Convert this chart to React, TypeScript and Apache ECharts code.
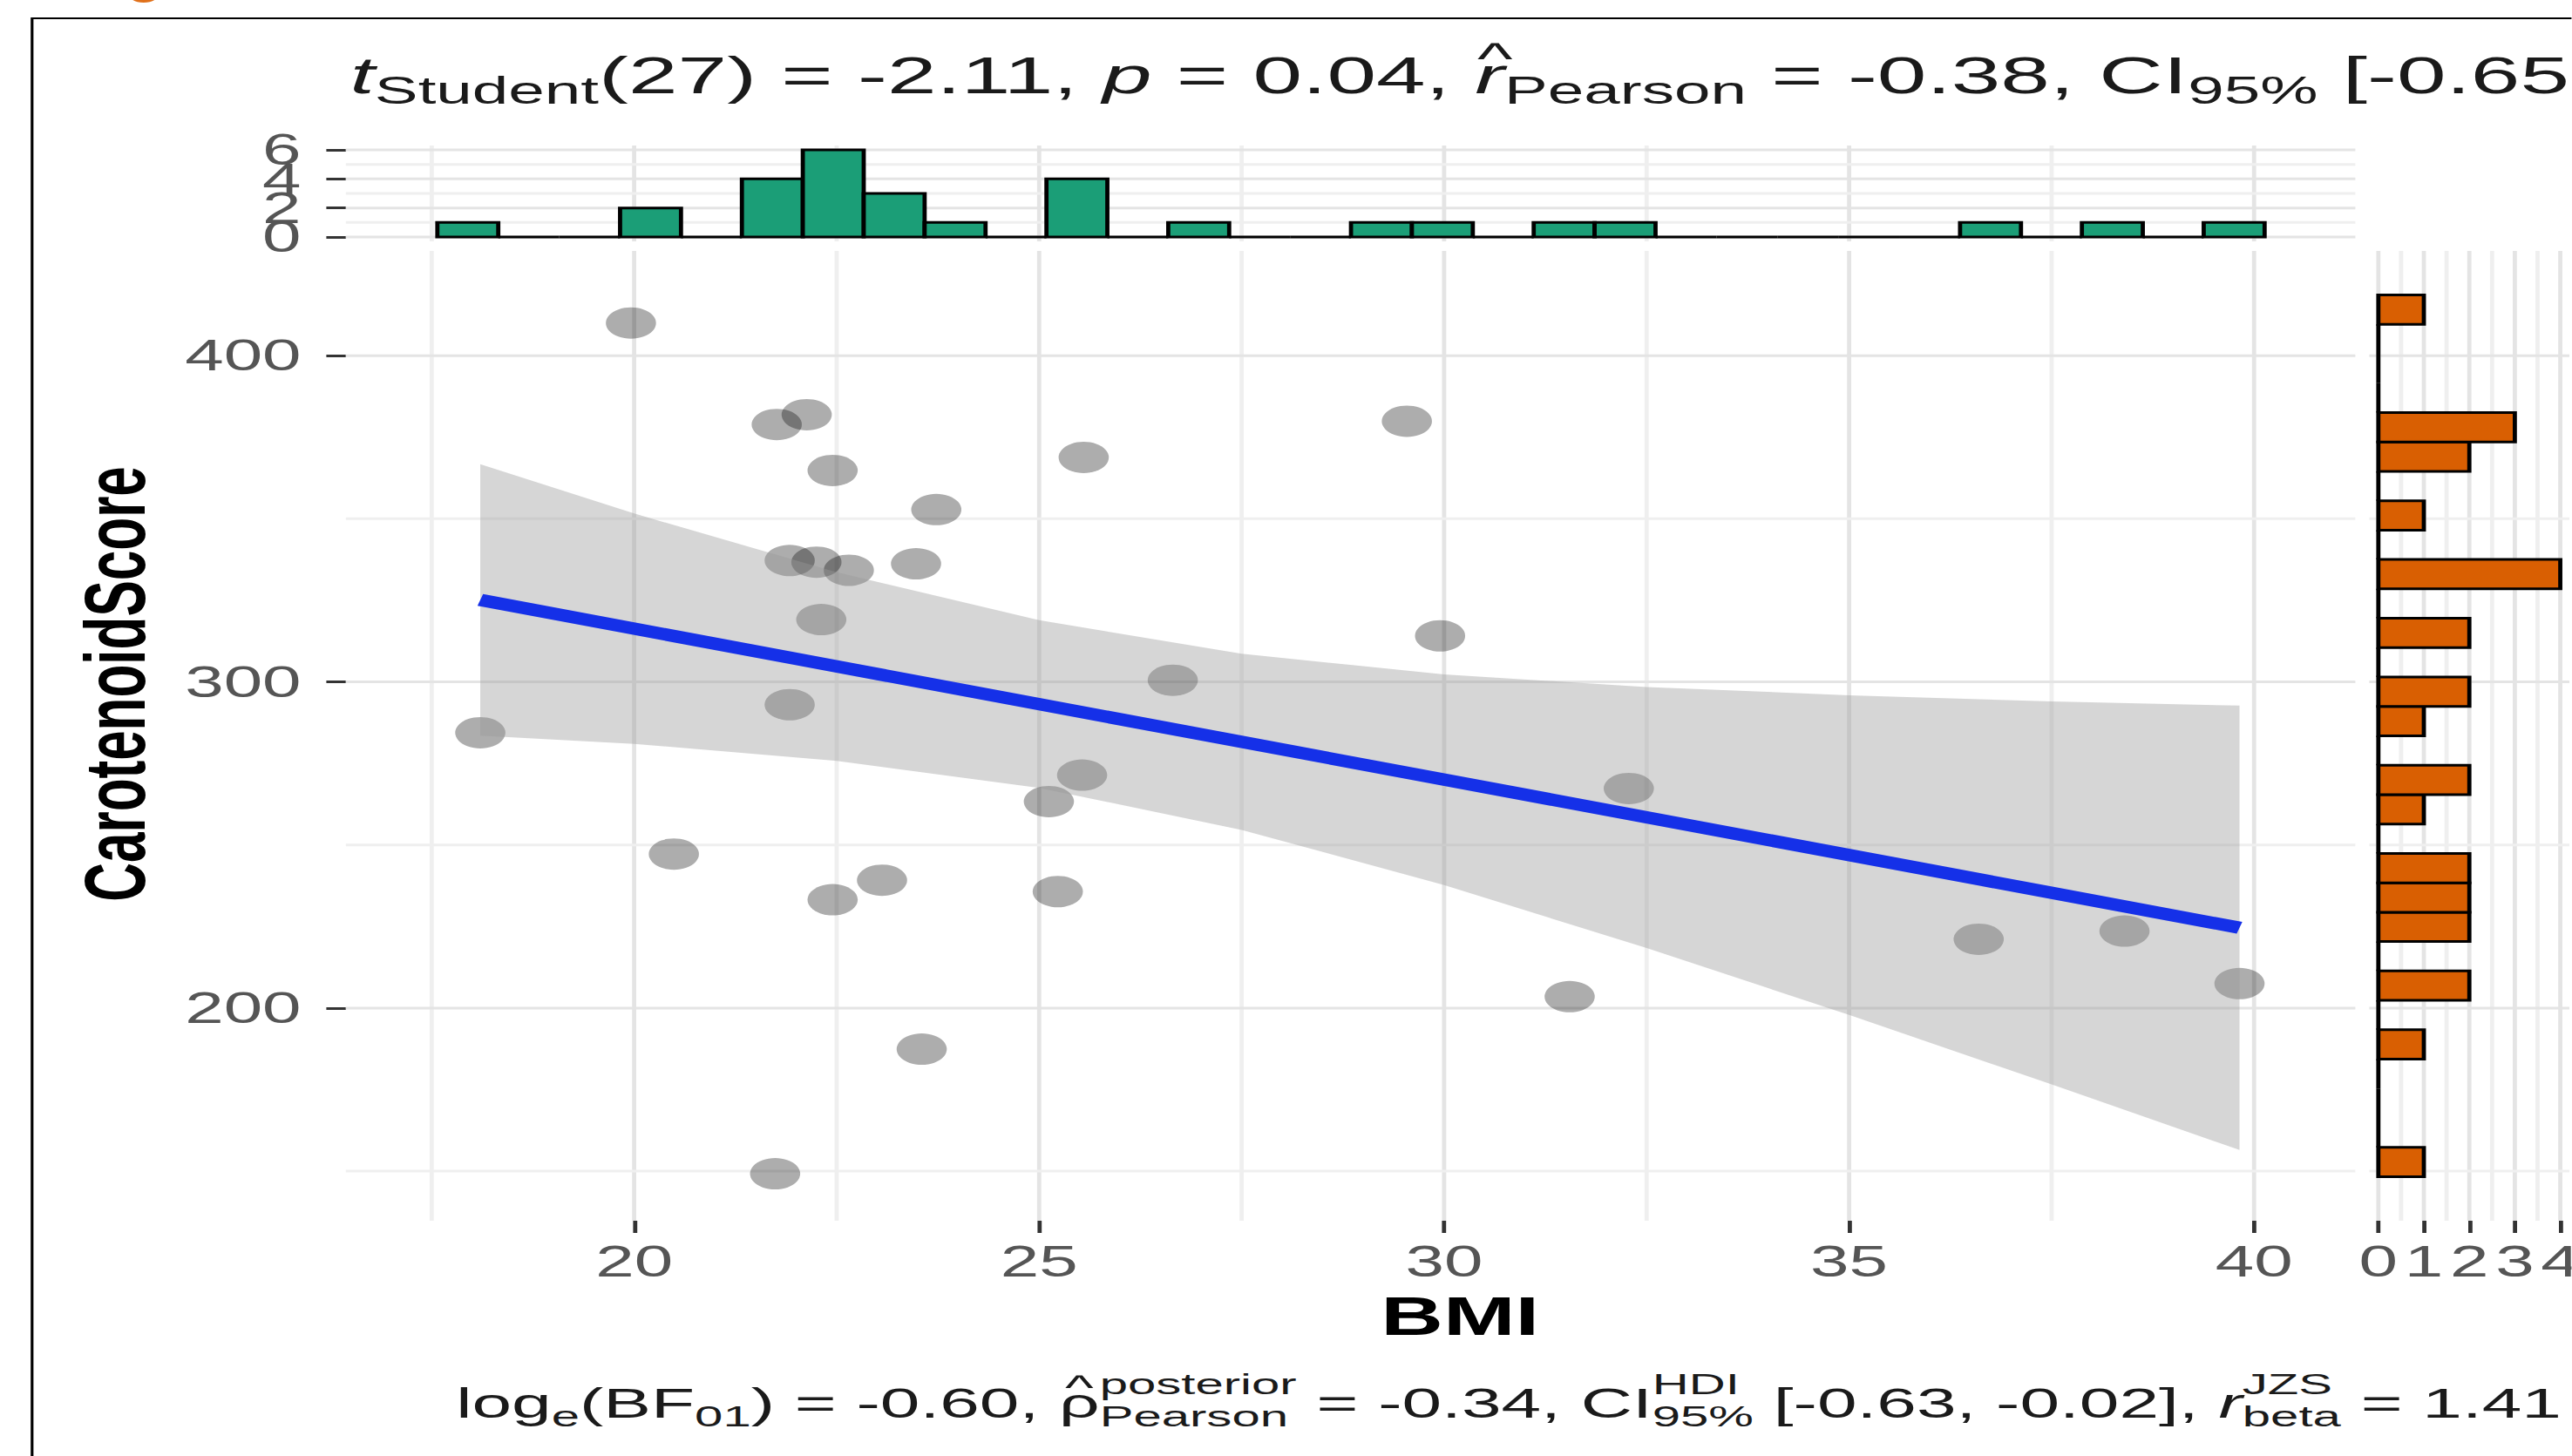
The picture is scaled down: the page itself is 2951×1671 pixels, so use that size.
import React, { useEffect, useRef } from 'react';
import * as echarts from 'echarts';

// The reference is a horizontally stretched ggplot export; we draw in an unstretched
// space and stretch the whole chart horizontally with CSS.
const STRETCH = 1.6;
const PAGE_W = 2951;
const PAGE_H = 1671;
const FONT = 'Liberation Sans';

// ---------- data ----------
const bmi = [18.10, 19.96, 20.49, 21.76, 22.13, 22.45, 23.73, 21.92, 22.25, 22.65, 23.48, 22.31, 21.92, 22.45, 23.06, 23.55, 21.74, 25.55, 26.65, 25.53, 25.12, 25.23, 29.54, 29.95, 31.55, 32.28, 36.60, 38.40, 39.82];
const carotenoid = [284.4, 410.0, 247.2, 378.9, 381.9, 364.8, 352.8, 337.2, 336.7, 334.2, 336.2, 319.1, 293.0, 233.2, 239.2, 187.4, 149.2, 368.8, 300.5, 271.4, 263.3, 235.7, 379.9, 314.1, 203.5, 267.3, 221.1, 223.6, 207.5];

const fitX = [18.1, 39.82];
const fitY = [325.1, 224.6];

const bandX = [18.1, 20, 22.5, 25, 27.5, 30, 32.5, 35, 37.5, 39.82];
const bandUpper = [366.7, 351.6, 333.6, 318.9, 308.6, 302.3, 298.4, 295.9, 294.0, 292.7];
const bandLower = [283.5, 281.0, 275.8, 267.5, 254.6, 237.7, 218.4, 197.9, 176.6, 156.5];

const topBinStart = 17.57;
const topBinWidth = 0.752;
const topCounts = [1, 0, 0, 2, 0, 4, 6, 3, 1, 0, 4, 0, 1, 0, 0, 1, 1, 0, 1, 1, 0, 0, 0, 0, 0, 1, 0, 1, 0, 1];

const rightBinStart = 148.3;
const rightBinWidth = 9.01;
const rightCounts = [1, 0, 0, 0, 1, 0, 2, 0, 2, 2, 2, 0, 1, 2, 0, 1, 2, 0, 2, 0, 4, 0, 1, 0, 2, 3, 0, 0, 0, 1];

const xTicks = [20, 25, 30, 35, 40];
const xMinor = [17.5, 22.5, 27.5, 32.5, 37.5];
const yTicks = [200, 300, 400];
const yMinor = [150, 250, 350];
const topYTicks = [0, 2, 4, 6];
const topYTicksA = [0, 4];
const topYTicksB = [2, 6];
const topYMinor = [1, 3, 5];
const rightXTicks = [0, 1, 2, 3, 4];
const rightXMinor = [0.5, 1.5, 2.5, 3.5];

const xRange = [16.44, 41.25];
const yRange = [134.8, 432.1];
const topRange = [-0.3, 6.3];
const rightRange = [-0.2, 4.2];

// ---------- styles ----------
const MAJOR = '#e4e4e4';
const MINOR = '#efefef';
const TEXT = '#1a1a1a';
const labelStyle = { fontSize: 50, color: '#555555', fontFamily: FONT, showMinLabel: true, showMaxLabel: true, hideOverlap: false };
const tickStyle = { show: true, length: 14, lineStyle: { color: '#333333', width: 3 } };

let measureCtx: CanvasRenderingContext2D | null = null;
function measureW(text: string, fs: number, it = false, bold = false) {
  if (!measureCtx) measureCtx = document.createElement('canvas').getContext('2d');
  const ctx = measureCtx as CanvasRenderingContext2D;
  ctx.font = `${it ? 'italic ' : ''}${bold ? 'bold ' : ''}${fs}px "${FONT}"`;
  return ctx.measureText(text).width;
}

function textEl(text: string, x: number, baseline: number, fs: number, opts: any = {}) {
  return {
    type: 'text',
    x,
    y: baseline - 0.3465 * fs,
    scaleX: opts.sx || 1,
    silent: true,
    z: 50,
    style: {
      text,
      fontSize: fs,
      fontFamily: FONT,
      fontStyle: opts.it ? 'italic' : 'normal',
      fontWeight: opts.bold ? 'bold' : 'normal',
      fill: opts.color || TEXT,
      align: opts.align || 'left',
      textAlign: opts.align || 'left',
      verticalAlign: 'middle',
      textVerticalAlign: 'middle',
    },
  };
}

type Seg = {
  t?: string; fs: number; it?: boolean; dy?: number; hat?: number;
  sup?: string; sub?: string; supDy?: number; subDy?: number;
};

function layout(segs: Seg[], x0: number, base: number, sx: number) {
  const els: any[] = [];
  let x = x0;
  for (const s of segs) {
    if (s.sup !== undefined || s.sub !== undefined) {
      let w = 0;
      if (s.sup) { els.push(textEl(s.sup, x, base + (s.supDy || 0), s.fs, { sx })); w = Math.max(w, measureW(s.sup, s.fs)); }
      if (s.sub) { els.push(textEl(s.sub, x, base + (s.subDy || 0), s.fs, { sx })); w = Math.max(w, measureW(s.sub, s.fs)); }
      x += w * sx;
      continue;
    }
    const t = s.t || '';
    const w = measureW(t, s.fs, !!s.it);
    els.push(textEl(t, x, base + (s.dy || 0), s.fs, { it: s.it, sx }));
    if (s.hat) {
      const hfs = s.fs * 0.85;
      els.push(textEl('^', x + (w / 2 + (s.it ? s.fs * 0.06 : 0)) * sx, base - s.hat * s.fs, hfs, { align: 'center', sx }));
    }
    x += w * sx;
  }
  return els;
}

const titleSegs: Seg[] = [
  { t: 't', fs: 60, it: true },
  { t: 'Student', fs: 44, dy: 12 },
  { t: '(27) = -2.11, ', fs: 60 },
  { t: 'p', fs: 60, it: true },
  { t: ' = 0.04, ', fs: 60 },
  { t: 'r', fs: 60, it: true, hat: 0.36 },
  { t: 'Pearson', fs: 44, dy: 12 },
  { t: ' = -0.38, CI', fs: 60 },
  { t: '95%', fs: 44, dy: 12 },
  { t: ' [-0.65, -0.02]', fs: 60 },
];

const subtitleSegs: Seg[] = [
  { t: 'log', fs: 48 },
  { t: 'e', fs: 34, dy: 10 },
  { t: '(BF', fs: 48 },
  { t: '01', fs: 34, dy: 10 },
  { t: ') = -0.60, ', fs: 48 },
  { t: 'ρ', fs: 48, hat: 0.44 },
  { sup: 'posterior', sub: 'Pearson', fs: 34, supDy: -27, subDy: 10 },
  { t: ' = -0.34, CI', fs: 48 },
  { sup: 'HDI', sub: '95%', fs: 34, supDy: -27, subDy: 10 },
  { t: ' [-0.63, -0.02], ', fs: 48 },
  { t: 'r', fs: 48, it: true },
  { sup: 'JZS', sub: 'beta', fs: 34, supDy: -27, subDy: 10 },
  { t: ' = 1.41', fs: 48 },
];

function gridLines(xi: number, yi: number, values: number[], dir: 'v' | 'h', color: string, width: number) {
  return {
    type: 'custom',
    xAxisIndex: xi,
    yAxisIndex: yi,
    z: 1,
    silent: true,
    data: values.map((v) => (dir === 'v' ? [v, 0] : [0, v])),
    renderItem: (params: any, api: any) => {
      const cs = params.coordSys;
      const p = api.coord([api.value(0), api.value(1)]);
      if (dir === 'v') {
        return { type: 'line', shape: { x1: p[0], y1: cs.y, x2: p[0], y2: cs.y + cs.height }, style: { stroke: color, lineWidth: width } };
      }
      return { type: 'line', shape: { x1: cs.x, y1: p[1], x2: cs.x + cs.width, y2: p[1] }, style: { stroke: color, lineWidth: width } };
    },
  };
}

function buildOption() {
  const graphicEls: any[] = [
    { type: 'rect', shape: { x: 23, y: 21, width: 3000, height: 3000 }, style: { fill: 'none', stroke: '#000', lineWidth: 2 }, silent: true },
    { type: 'ellipse', shape: { cx: 103, cy: -5, rx: 10, ry: 8 }, style: { fill: '#e0701a' }, silent: true },
    ...layout(titleSegs, 251, 107, 1.06),
    ...layout(subtitleSegs, 327, 1627, 1.068),
    textEl('BMI', 1047, 1532, 62, { bold: true, align: 'center', color: '#000' }),
    {
      type: 'text', x: 104 - 0.3465 * 62, y: 785, rotation: Math.PI / 2, silent: true,
      style: { text: 'CarotenoidScore', fontSize: 62, fontFamily: FONT, fontWeight: 'bold', fill: '#000', align: 'center', textAlign: 'center', verticalAlign: 'middle', textVerticalAlign: 'middle' },
    },
  ];

  // yAxis indices: 0 main, 1 top hist (0,4), 2 right hist, 3 top hist (2,6)
  return {
    animation: false,
    backgroundColor: '#ffffff',
    grid: [
      { left: 248, top: 288, width: 1441, height: 1113, containLabel: false, outerBoundsMode: 'none' },
      { left: 248, top: 167, width: 1441, height: 110, containLabel: false, outerBoundsMode: 'none' },
      { left: 1699, top: 288, width: 143.5, height: 1113, containLabel: false, outerBoundsMode: 'none' },
    ],
    xAxis: [
      {
        gridIndex: 0, type: 'value', min: xRange[0], max: xRange[1],
        axisLine: { show: false }, splitLine: { show: false },
        axisTick: { ...tickStyle, customValues: xTicks },
        axisLabel: { ...labelStyle, margin: 22, customValues: xTicks },
      },
      {
        gridIndex: 1, type: 'value', min: xRange[0], max: xRange[1],
        axisLine: { show: false }, splitLine: { show: false }, axisTick: { show: false }, axisLabel: { show: false },
      },
      {
        gridIndex: 2, type: 'value', min: rightRange[0], max: rightRange[1],
        axisLine: { show: false }, splitLine: { show: false },
        axisTick: { ...tickStyle, customValues: rightXTicks },
        axisLabel: { ...labelStyle, margin: 22, customValues: rightXTicks },
      },
    ],
    yAxis: [
      {
        gridIndex: 0, type: 'value', position: 'left', min: yRange[0], max: yRange[1],
        axisLine: { show: false }, splitLine: { show: false },
        axisTick: { ...tickStyle, customValues: yTicks },
        axisLabel: { ...labelStyle, margin: 32, customValues: yTicks },
      },
      {
        gridIndex: 1, type: 'value', position: 'left', offset: 0, min: topRange[0], max: topRange[1],
        axisLine: { show: false }, splitLine: { show: false },
        axisTick: { ...tickStyle, customValues: topYTicksA },
        axisLabel: { ...labelStyle, margin: 32, customValues: topYTicksA },
      },
      {
        gridIndex: 2, type: 'value', min: yRange[0], max: yRange[1],
        axisLine: { show: false }, splitLine: { show: false }, axisTick: { show: false }, axisLabel: { show: false },
      },
      {
        gridIndex: 1, type: 'value', position: 'left', offset: 0, min: topRange[0], max: topRange[1],
        axisLine: { show: false }, splitLine: { show: false },
        axisTick: { ...tickStyle, customValues: topYTicksB },
        axisLabel: { ...labelStyle, margin: 32, customValues: topYTicksB },
      },
    ],
    graphic: { elements: graphicEls },
    series: [
      // grid lines
      gridLines(0, 0, xMinor, 'v', MINOR, 3),
      gridLines(0, 0, xTicks, 'v', MAJOR, 3),
      gridLines(0, 0, yMinor, 'h', MINOR, 3),
      gridLines(0, 0, yTicks, 'h', MAJOR, 3),
      gridLines(1, 1, xMinor, 'v', MINOR, 3),
      gridLines(1, 1, xTicks, 'v', MAJOR, 3),
      gridLines(1, 1, topYMinor, 'h', MINOR, 3),
      gridLines(1, 1, topYTicks, 'h', MAJOR, 3),
      gridLines(2, 2, rightXMinor, 'v', MINOR, 3),
      gridLines(2, 2, rightXTicks, 'v', MAJOR, 3),
      gridLines(2, 2, yMinor, 'h', MINOR, 3),
      gridLines(2, 2, yTicks, 'h', MAJOR, 3),
      // points
      {
        type: 'scatter', xAxisIndex: 0, yAxisIndex: 0, z: 3, silent: true,
        symbol: 'circle', symbolSize: 36,
        itemStyle: { color: 'rgba(0,0,0,0.4)', borderWidth: 0 },
        data: bmi.map((x, i) => [x, carotenoid[i]]),
      },
      // confidence band
      {
        type: 'custom', xAxisIndex: 0, yAxisIndex: 0, z: 4, silent: true,
        data: [[bandX[0], bandUpper[0]]],
        renderItem: (_params: any, api: any) => {
          const pts: number[][] = [];
          bandX.forEach((x, i) => pts.push(api.coord([x, bandUpper[i]])));
          for (let i = bandX.length - 1; i >= 0; i--) pts.push(api.coord([bandX[i], bandLower[i]]));
          return { type: 'polygon', shape: { points: pts }, style: { fill: 'rgba(153,153,153,0.4)' } };
        },
      },
      // regression line
      {
        type: 'line', xAxisIndex: 0, yAxisIndex: 0, z: 5, silent: true,
        symbol: 'none', showSymbol: false,
        lineStyle: { color: '#1530e8', width: 14, cap: 'butt' },
        data: fitX.map((x, i) => [x, fitY[i]]),
      },
      // top marginal histogram
      {
        type: 'custom', xAxisIndex: 1, yAxisIndex: 1, z: 3, silent: true,
        data: topCounts.map((c, i) => [topBinStart + (i + 0.5) * topBinWidth, c]),
        renderItem: (_params: any, api: any) => {
          const cx = api.value(0);
          const c = api.value(1);
          const p0 = api.coord([cx - topBinWidth / 2, 0]);
          const p1 = api.coord([cx + topBinWidth / 2, c]);
          return {
            type: 'rect',
            shape: { x: p0[0], y: p1[1], width: p1[0] - p0[0], height: p0[1] - p1[1] },
            style: { fill: '#1b9e77', stroke: '#000', lineWidth: 3 },
          };
        },
      },
      // right marginal histogram
      {
        type: 'custom', xAxisIndex: 2, yAxisIndex: 2, z: 3, silent: true,
        data: rightCounts.map((c, i) => [c, rightBinStart + (i + 0.5) * rightBinWidth]),
        renderItem: (_params: any, api: any) => {
          const c = api.value(0);
          const cy = api.value(1);
          const p0 = api.coord([0, cy - rightBinWidth / 2]);
          const p1 = api.coord([c, cy + rightBinWidth / 2]);
          return {
            type: 'rect',
            shape: { x: p0[0], y: p1[1], width: p1[0] - p0[0], height: p0[1] - p1[1] },
            style: { fill: '#d95f02', stroke: '#000', lineWidth: 3 },
          };
        },
      },
    ],
  };
}

export default function App() {
  const ref = useRef<HTMLDivElement>(null);
  useEffect(() => {
    if (!ref.current) return;
    const chart = echarts.init(ref.current, undefined, { renderer: 'svg' });
    chart.setOption(buildOption() as any);
    return () => chart.dispose();
  }, []);
  return (
    <div style={{ position: 'fixed', left: 0, top: 0, width: PAGE_W, height: PAGE_H, overflow: 'hidden', background: '#fff' }}>
      <div
        ref={ref}
        style={{ width: PAGE_W / STRETCH, height: PAGE_H, transform: `scaleX(${STRETCH})`, transformOrigin: '0 0' }}
      />
    </div>
  );
}
